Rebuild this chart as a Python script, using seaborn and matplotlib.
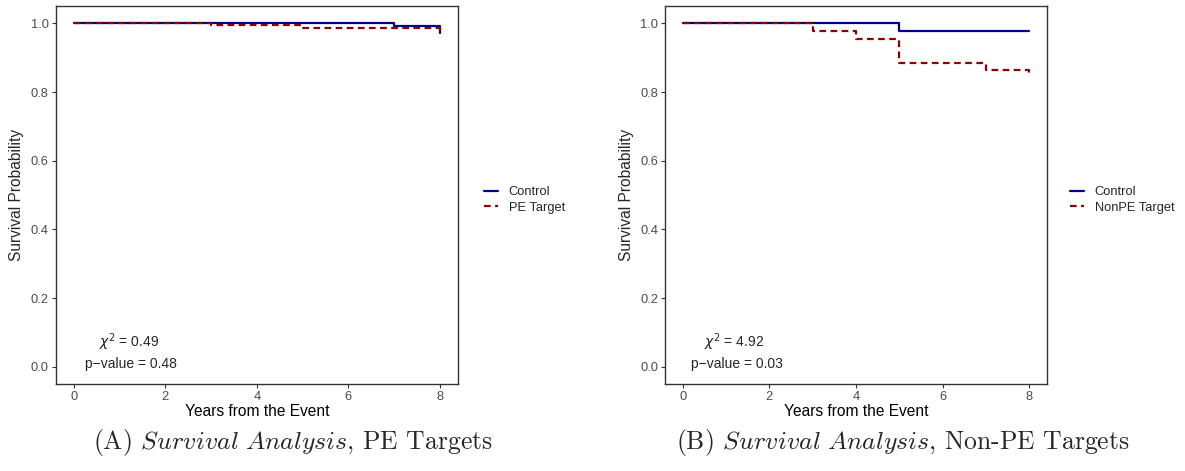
import numpy as np
import pandas as pd
import matplotlib
matplotlib.use("Agg")
import matplotlib.pyplot as plt
import seaborn as sns

# Kaplan-Meier step values
years_a_control = [0, 7, 8]
surv_a_control = [1.0, 0.994, 0.971]
years_a_target = [0, 3, 5, 8]
surv_a_target = [1.0, 0.995, 0.986, 0.982]

years_b_control = [0, 5, 8]
surv_b_control = [1.0, 0.977, 0.977]
years_b_target = [0, 3, 4, 5, 7, 8]
surv_b_target = [1.0, 0.977, 0.954, 0.886, 0.864, 0.846]

labels_a = ["Control", "PE Target"]
labels_b = ["Control", "NonPE Target"]
stats_a = ["0.49", "0.48"]
stats_b = ["4.92", "0.03"]
captions = [r"(A) $\mathit{Survival\ Analysis}$, PE Targets",
            r"(B) $\mathit{Survival\ Analysis}$, Non-PE Targets"]

sns.set_style("white")
plt.rcParams["font.family"] = ["Liberation Sans", "DejaVu Sans"]

W, H = 1185, 471
fig = plt.figure(figsize=(W / 100, H / 100), dpi=100)


def make_df(years_c, surv_c, years_t, surv_t, labels):
    d1 = pd.DataFrame({"years": years_c, "surv": surv_c, "group": labels[0]})
    d2 = pd.DataFrame({"years": years_t, "surv": surv_t, "group": labels[1]})
    return pd.concat([d1, d2], ignore_index=True)


panels = [
    (make_df(years_a_control, surv_a_control, years_a_target, surv_a_target, labels_a),
     labels_a, stats_a, 55.7, 458.0, 484, 17, 293),
    (make_df(years_b_control, surv_b_control, years_b_target, surv_b_target, labels_b),
     labels_b, stats_b, 665.3, 1046.7, 1070, 627, 903),
]

for df, labels, stats, x0, x1, leg_x, ylab_x, cap_x in panels:
    ax = fig.add_axes([x0 / W, 1 - 384 / H, (x1 - x0) / W, (384 - 6.3) / H])
    palette = {labels[0]: "#00008B", labels[1]: "#8B0000"}
    dashes = {labels[0]: "", labels[1]: (3.0, 2.0)}
    sns.lineplot(data=df, x="years", y="surv", hue="group", style="group",
                 palette=palette, dashes=dashes, drawstyle="steps-post",
                 linewidth=1.6, ax=ax, legend=True, errorbar=None)
    ax.set_xlim(-0.4, 8.4)
    ax.set_ylim(-0.05, 1.05)
    ax.set_xticks([0, 2, 4, 6, 8])
    ax.set_yticks([0.0, 0.2, 0.4, 0.6, 0.8, 1.0])
    ax.set_yticklabels(["0.0", "0.2", "0.4", "0.6", "0.8", "1.0"])
    for s in ax.spines.values():
        s.set_color("#333333")
        s.set_linewidth(1.0)
    ax.tick_params(axis="both", which="major", direction="out", length=3,
                   width=0.8, color="#333333", labelcolor="#4D4D4D",
                   labelsize=9.3, pad=2, bottom=True, left=True)
    ax.set_xlabel("Years from the Event", fontsize=11.2, color="black", labelpad=1)
    ax.set_ylabel("")
    fig.text(ylab_x / W, 1 - 195 / H, "Survival Probability", rotation=90,
             fontsize=11.2, ha="center", va="center")

    ax.text(1.2, 0.072, r"$\chi^2$ = " + stats[0], fontsize=10,
            ha="center", va="center")
    ax.text(1.25, 0.008, "p\u2212value = " + stats[1], fontsize=10,
            ha="center", va="center")

    handles, labs = ax.get_legend_handles_labels()
    ax.get_legend().remove()
    fig.legend(handles, labs, loc="center left",
               bbox_to_anchor=(leg_x / W, 1 - 200 / H), frameon=False,
               fontsize=9.3, borderpad=0, borderaxespad=0, handlelength=1.1,
               handletextpad=0.8, labelspacing=0.25)

for (df, labels, stats, x0, x1, leg_x, ylab_x, cap_x), cap in zip(panels, captions):
    fig.text(cap_x / W, 1 - 443 / H, cap, fontsize=18.5, ha="center", va="center",
             family="cmr10", math_fontfamily="cm")

fig.savefig("out.png", dpi=100)
